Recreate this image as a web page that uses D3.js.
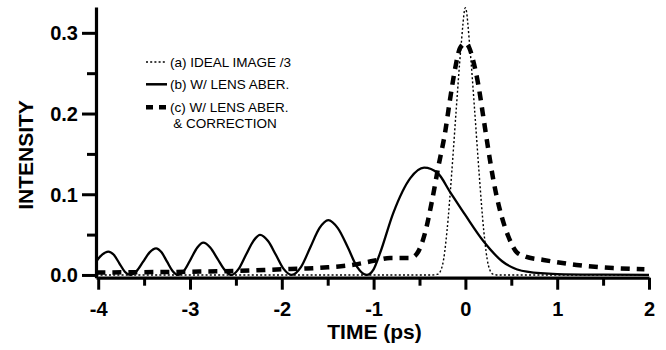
<!DOCTYPE html>
<html><head><meta charset="utf-8">
<script src="https://cdn.jsdelivr.net/npm/d3@7/dist/d3.min.js"></script>
<style>
html,body{margin:0;padding:0;background:#fff;}
svg{display:block;}
text{font-family:"Liberation Sans",Arial,Helvetica,sans-serif;fill:#000;}
</style></head>
<body>
<svg id="chart" width="666" height="350"></svg>
<script>
// ---- data ----
const xMajorTicks = [-4, -3, -2, -1, 0, 1, 2];
const xMinorTicks = [-3.5, -2.5, -1.5, -0.5, 0.5, 1.5];
const yMajorTicks = [0, 0.1, 0.2, 0.3];
const yMinorTicks = [0.05, 0.15, 0.25];
const yTickLabels = ["0.0", "0.1", "0.2", "0.3"];

// (a) ideal image /3 (dotted)
const timeA = [-4.02, -0.36, -0.30, -0.25, -0.20, -0.15, -0.10, -0.05, 0, 0.05, 0.10, 0.15, 0.20, 0.25, 0.30, 0.36, 2.0];
const intensityA = [0, 0, 0.001, 0.012, 0.055, 0.125, 0.205, 0.28, 0.331, 0.28, 0.205, 0.125, 0.055, 0.012, 0.001, 0, 0];

// (b) with lens aberration (solid)
const timeB = [-4.02, -3.96, -3.89, -3.83, -3.77, -3.71, -3.65,
  -3.58, -3.51, -3.44, -3.37, -3.31, -3.25, -3.19, -3.13,
  -3.06, -2.99, -2.92, -2.855, -2.78, -2.70, -2.62, -2.546,
  -2.47, -2.39, -2.31, -2.237, -2.15, -2.065, -1.98, -1.892,
  -1.79, -1.69, -1.59, -1.493, -1.39, -1.28, -1.18, -1.075,
  -1.0, -0.93, -0.785, -0.6, -0.45, -0.3, -0.168, 0, 0.195, 0.4, 0.67, 1.0, 1.5, 2.0];
const intensityB = [0.017, 0.025, 0.029, 0.025, 0.0145, 0.004, 0,
  0.005, 0.0165, 0.028, 0.033, 0.028, 0.0165, 0.005, 0,
  0.006, 0.020, 0.034, 0.040, 0.034, 0.020, 0.006, 0,
  0.0075, 0.025, 0.042, 0.0496, 0.042, 0.025, 0.0075, 0,
  0.010, 0.034, 0.058, 0.068, 0.058, 0.034, 0.010, 0,
  0.007, 0.027, 0.077, 0.12, 0.133, 0.126, 0.103, 0.074, 0.042, 0.017, 0.004, 0.001, 0.0003, 0];

// (c) with lens aberration & correction (dashed)
const timeC = [-4.02, -3.5, -3.0, -2.5, -2.0, -1.73, -1.5, -1.257, -1.0, -0.82, -0.7, -0.6, -0.53,
  -0.44, -0.367, -0.295, -0.222, -0.168, -0.113, -0.059, 0, 0.04, 0.086, 0.14, 0.195, 0.25,
  0.304, 0.377, 0.467, 0.56, 0.65, 0.85, 1.21, 1.61, 1.95];
const intensityC = [0.003, 0.0035, 0.004, 0.005, 0.007, 0.008, 0.0095, 0.012, 0.0175, 0.021, 0.021, 0.021, 0.026,
  0.052, 0.09, 0.134, 0.176, 0.217, 0.255, 0.281, 0.287, 0.282, 0.265, 0.236, 0.196, 0.155,
  0.118, 0.080, 0.048, 0.028, 0.023, 0.0186, 0.0124, 0.0085, 0.007];

const legendLabels = ["(a) IDEAL IMAGE /3", "(b) W/ LENS ABER.", "(c) W/ LENS ABER.", "& CORRECTION"];

// ---- drawing ----
const svg = d3.select("#chart");
const x = d3.scaleLinear().domain([-4.024, 2.0]).range([96, 649]);
const y = d3.scaleLinear().domain([-0.0034, 0.332]).range([277.7, 7]);

const line = d3.line().x(d => x(d[0])).y(d => y(d[1])).curve(d3.curveMonotoneX);
const zip = (a, b) => a.map((v, i) => [v, b[i]]);

// curves
svg.append("path").datum(zip(timeA, intensityA)).attr("d", line)
  .attr("fill", "none").attr("stroke", "#000").attr("stroke-width", 1.4).attr("stroke-dasharray", "2,2.2");
svg.append("path").datum(zip(timeB, intensityB)).attr("d", line)
  .attr("fill", "none").attr("stroke", "#000").attr("stroke-width", 2.3);
svg.append("path").datum(zip(timeC, intensityC)).attr("d", line)
  .attr("fill", "none").attr("stroke", "#000").attr("stroke-width", 4.5).attr("stroke-dasharray", "9,7");

// x axis
const gx = svg.append("g").attr("transform", `translate(0,${y.range()[0]})`);
gx.call(d3.axisBottom(x).tickValues(xMajorTicks).tickSize(12).tickSizeOuter(0).tickFormat(d => String(d)));
const gx2 = svg.append("g").attr("transform", `translate(0,${y.range()[0]})`);
gx2.call(d3.axisBottom(x).tickValues(xMinorTicks).tickSize(8).tickSizeOuter(0).tickFormat(""));
gx2.select(".domain").remove();

// y axis
const gy = svg.append("g").attr("transform", `translate(${x.range()[0]},0)`);
gy.call(d3.axisLeft(y).tickValues(yMajorTicks).tickSize(14).tickSizeOuter(0).tickFormat((d, i) => yTickLabels[i]));
const gy2 = svg.append("g").attr("transform", `translate(${x.range()[0]},0)`);
gy2.call(d3.axisLeft(y).tickValues(yMinorTicks).tickSize(9).tickSizeOuter(0).tickFormat(""));
gy2.select(".domain").remove();

svg.selectAll(".domain").attr("stroke", "#000").attr("stroke-width", 3.2);
svg.selectAll(".tick line").attr("stroke", "#000").attr("stroke-width", 3);
gx.selectAll(".tick text").attr("y", 38).attr("dy", 0)
  .style("font-size", "20px").style("font-weight", "bold").style("font-family", '"Liberation Sans",Arial,sans-serif');
gy.selectAll(".tick text").attr("x", -18).attr("dy", "0.35em")
  .style("font-size", "20px").style("font-weight", "bold").style("font-family", '"Liberation Sans",Arial,sans-serif');

// axis titles
svg.append("text").attr("x", 374.5).attr("y", 339).attr("text-anchor", "middle")
  .style("font-size", "21px").style("font-weight", "bold").text("TIME (ps)");
svg.append("text").attr("transform", "translate(33,155) rotate(-90)").attr("text-anchor", "middle")
  .style("font-size", "21px").style("font-weight", "bold").text("INTENSITY");

// legend
const lg = svg.append("g");
const lx0 = 146, lx1 = 167, tx = 170;
lg.append("line").attr("x1", lx0).attr("x2", lx1).attr("y1", 62).attr("y2", 62)
  .attr("stroke", "#000").attr("stroke-width", 1.4).attr("stroke-dasharray", "2,2.2");
lg.append("line").attr("x1", lx0).attr("x2", lx1).attr("y1", 84.3).attr("y2", 84.3)
  .attr("stroke", "#000").attr("stroke-width", 2.5);
lg.append("line").attr("x1", lx0).attr("x2", lx1 - 1).attr("y1", 107.3).attr("y2", 107.3)
  .attr("stroke", "#000").attr("stroke-width", 4.5).attr("stroke-dasharray", "7,6");
const ly = [66.7, 89.3, 112.3, 128.0];
const lxs = [tx, tx, tx, 173.3];
legendLabels.forEach((s, i) => {
  lg.append("text").attr("x", lxs[i]).attr("y", ly[i]).style("font-size", "13.5px").text(s);
});
</script>
</body></html>
